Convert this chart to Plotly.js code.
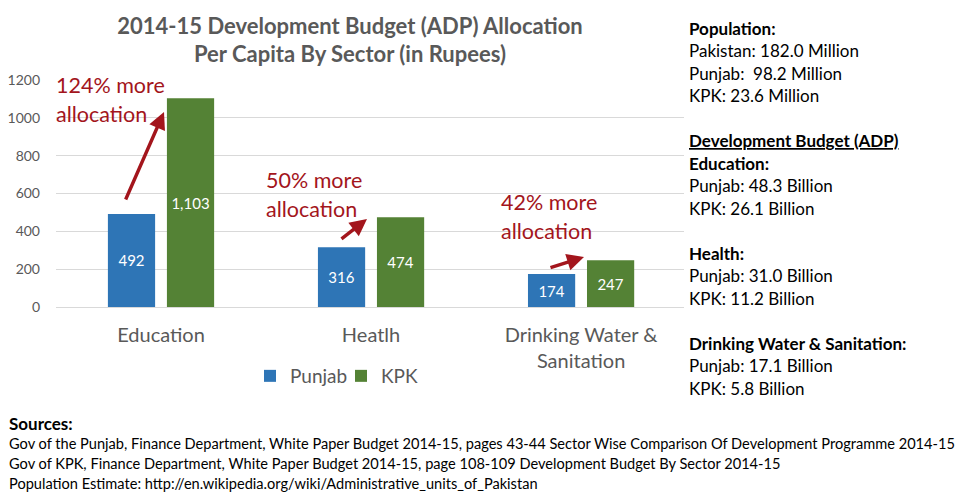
<!DOCTYPE html>
<html>
<head>
<meta charset="utf-8">
<script src="https://cdn.plot.ly/plotly-3.0.1.min.js"></script>
<style>html,body{margin:0;padding:0;background:#fff;}#chart{width:975px;height:497px;}</style>
</head>
<body>
<div id="chart"></div>
<script>
// ---- data ----
const categories = ["Education", "Heatlh", "Drinking Water &<br>Sanitation"];
const punjab = [492, 316, 174];
const kpk = [1103, 474, 247];
const seriesNames = ["Punjab", "KPK"];
const yTicks = [0, 200, 400, 600, 800, 1000, 1200];
const callouts = [
  ["124% more", "allocation"],
  ["50% more", "allocation"],
  ["42% more", "allocation"]
];
const panelLines = [
  ["Population:", "b"],
  ["Pakistan: 182.0 Million", ""],
  ["Punjab:&nbsp; 98.2 Million", ""],
  ["KPK: 23.6 Million", ""],
  ["", ""],
  ["Development Budget (ADP)", "bu"],
  ["Education:", "b"],
  ["Punjab: 48.3 Billion", ""],
  ["KPK: 26.1 Billion", ""],
  ["", ""],
  ["Health:", "b"],
  ["Punjab: 31.0 Billion", ""],
  ["KPK: 11.2 Billion", ""],
  ["", ""],
  ["Drinking Water & Sanitation:", "b"],
  ["Punjab: 17.1 Billion", ""],
  ["KPK: 5.8 Billion", ""]
];
const sourcesTitle = "Sources:";
const sources = [
  "Gov of the Punjab, Finance Department, White Paper Budget 2014-15, pages 43-44 Sector Wise Comparison Of Development Programme 2014-15",
  "Gov of KPK, Finance Department, White Paper Budget 2014-15, page 108-109 Development Budget By Sector 2014-15",
  "Population Estimate: http://en.wikipedia.org/wiki/Administrative_units_of_Pakistan"
];

// ---- layout helpers (pixel -> paper) ----
const W = 975, H = 497;
const mL = 56, mR = 291, mT = 80, mB = 190;
const pw = W - mL - mR, ph = H - mT - mB;
const px = x => (x - mL) / pw;
const py = y => (H - mB - y) / ph;

const FONT = "Lato, 'Open Sans', sans-serif";
const GRAY = "#595959";
const RED = "#A3151C";
const BLUE = "#2E75B6";
const GREEN = "#548235";

const traces = [
  {type: "bar", name: seriesNames[0], x: categories, y: punjab, marker: {color: BLUE},
   texttemplate: "%{y:,}", textposition: "inside", insidetextanchor: "middle", textangle: 0,
   textfont: {color: "#ffffff", size: 15, family: FONT}, hoverinfo: "skip"},
  {type: "bar", name: seriesNames[1], x: categories, y: kpk, marker: {color: GREEN},
   texttemplate: "%{y:,}", textposition: "inside", insidetextanchor: "middle", textangle: 0,
   textfont: {color: "#ffffff", size: 15, family: FONT}, hoverinfo: "skip"}
];

const annotations = [];
// callout texts
const calloutPos = [[54, 85], [264, 180], [499, 202]];
callouts.forEach((c, i) => {
  c.forEach((t, j) => {
    annotations.push({xref: "paper", yref: "paper", x: px(calloutPos[i][0]), y: py(calloutPos[i][1] + j * 29),
      xanchor: "left", yanchor: "middle", showarrow: false, text: t,
      font: {family: FONT, size: 21.5, color: RED}});
  });
});
// arrows (tail -> head, pixel positions)
const arrows = [[125, 201, 164, 112], [340, 240, 367, 219], [549, 268, 584, 257]];
arrows.forEach(a => {
  annotations.push({xref: "paper", yref: "paper", axref: "paper", ayref: "paper",
    x: px(a[2]), y: py(a[3]), ax: px(a[0]), ay: py(a[1]), text: "", showarrow: true,
    arrowhead: 2, arrowsize: 1, arrowwidth: 3.4, arrowcolor: RED, standoff: 0});
});
// right panel
panelLines.forEach((l, i) => {
  if (!l[0]) return;
  let t = l[0];
  if (l[1].includes("u")) t = "<u>" + t + "</u>";
  if (l[1].includes("b")) t = "<b>" + t + "</b>";
  annotations.push({xref: "paper", yref: "paper", x: px(687), y: py(28 + i * 22.5),
    xanchor: "left", yanchor: "middle", showarrow: false, text: t,
    font: {family: FONT, size: 17, color: "#000000"}});
});
// sources
annotations.push({xref: "paper", yref: "paper", x: px(7), y: py(423), xanchor: "left", yanchor: "middle",
  showarrow: false, text: "<b>" + sourcesTitle + "</b>", font: {family: FONT, size: 17, color: "#000000"}});
sources.forEach((s, i) => {
  annotations.push({xref: "paper", yref: "paper", x: px(7), y: py(443 + i * 20), xanchor: "left", yanchor: "middle",
    showarrow: false, text: s, font: {family: FONT, size: 14.6, color: "#000000"}});
});

const layout = {
  width: W, height: H,
  margin: {l: mL, r: mR, t: mT, b: mB, autoexpand: false},
  paper_bgcolor: "#ffffff", plot_bgcolor: "#ffffff",
  font: {family: FONT, color: GRAY},
  title: {text: "<b>2014-15 Development Budget (ADP) Allocation<br>Per Capita By Sector (in Rupees)</b>",
    font: {family: FONT, size: 22, color: GRAY}, x: px(350), xref: "paper", xanchor: "center",
    y: 1 - 33.5 / H, yref: "container", yanchor: "middle"},
  barmode: "group", bargap: 0.438, bargroupgap: 0.2,
  showlegend: true,
  legend: {orientation: "h", x: px(250), xanchor: "left", y: py(376), yanchor: "middle",
    font: {family: FONT, size: 19, color: GRAY}, itemwidth: 30, entrywidth: 46, entrywidthmode: "pixels",
    bgcolor: "rgba(0,0,0,0)"},
  xaxis: {range: [-0.5, 2.49], showgrid: false, showline: false, ticks: "",
    tickfont: {family: FONT, size: 20, color: GRAY}, ticklabelstandoff: 14, fixedrange: true},
  yaxis: {range: [0, 1200], tickvals: yTicks, showgrid: true, gridcolor: "#D9D9D9", gridwidth: 1,
    zeroline: true, zerolinecolor: "#D9D9D9", showline: false, ticks: "",
    tickfont: {family: FONT, size: 14, color: GRAY}, ticklabelstandoff: 15, fixedrange: true},
  annotations: annotations
};

Plotly.newPlot("chart", traces, layout, {displayModeBar: false, staticPlot: true});
</script>
</body>
</html>
